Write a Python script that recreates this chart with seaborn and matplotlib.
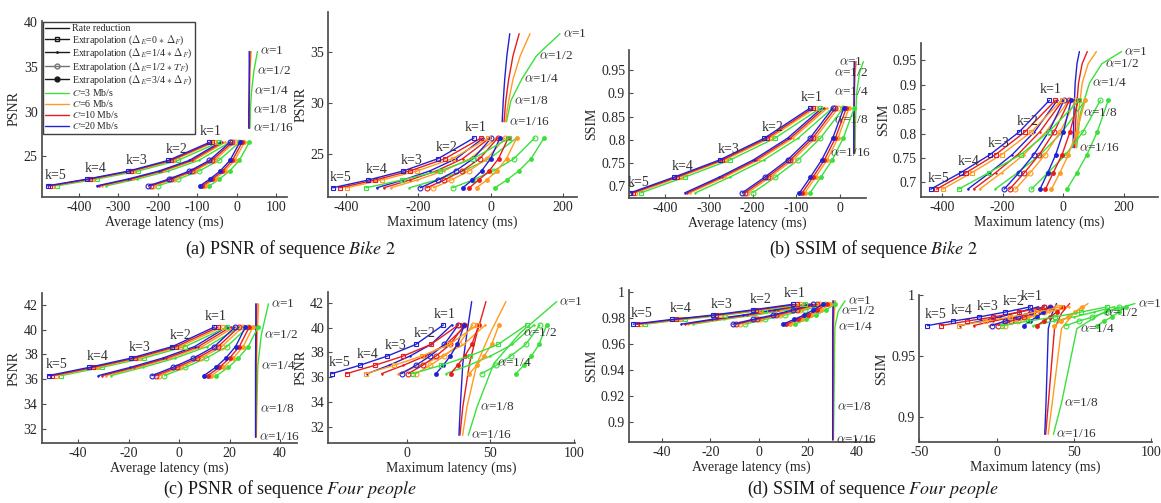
import pandas as pd
import matplotlib
matplotlib.use("Agg")
import matplotlib.pyplot as plt
from matplotlib.lines import Line2D
from matplotlib.ticker import FuncFormatter
import seaborn as sns

# link rates C (Mb/s), drawn in this order so C=20 ends up on top
rates = ["3", "6", "10", "20"]
rate_colors = ["#3be03b", "#ff9b21", "#e81c1c", "#2121d4"]
k_labels = ["k=1", "k=2", "k=3", "k=4", "k=5"]
alpha_labels = [r"$\alpha$=1", r"$\alpha$=1/2", r"$\alpha$=1/4", r"$\alpha$=1/8", r"$\alpha$=1/16"]
legend_labels = ["Rate reduction",
                 r"Extrapolation ($\Delta_E$=0 $*$ $\Delta_F$)",
                 r"Extrapolation ($\Delta_E$=1/4 $*$ $\Delta_F$)",
                 r"Extrapolation ($\Delta_E$=1/2 $*$ $T_F$)",
                 r"Extrapolation ($\Delta_E$=3/4 $*$ $\Delta_F$)",
                 r"$C$=3 Mb/s", r"$C$=6 Mb/s", r"$C$=10 Mb/s", r"$C$=20 Mb/s"]

# quality for k = 1..5 (extrapolation) and alpha = 1 .. 1/16 (rate reduction)
bike_psnr_k = [26.57, 24.55, 23.35, 22.46, 21.70]
bike_psnr_alpha = [36.75, 34.6, 32.3, 30.2, 28.15]
bike_ssim_k = [0.868, 0.8036, 0.757, 0.720, 0.686]
bike_ssim_alpha = [0.968, 0.943, 0.903, 0.842, 0.771]
four_psnr_k = [40.22, 38.64, 37.70, 36.95, 36.28]
four_psnr_alpha = [42.1, 39.6, 37.1, 33.6, 31.3]
four_ssim_k = [0.9903, 0.986, 0.982, 0.9787, 0.975]
four_ssim_alpha = [0.993, 0.985, 0.9725, 0.9115, 0.886]

# latencies (ms), rows = C=3, 6, 10, 20 ; columns = k=1..5 or alpha=1..1/16
bike_avg_d0 = [[-45, -149, -251, -355, -456],
               [-57, -161, -263, -367, -468],
               [-63, -167, -269, -373, -474],
               [-69, -173, -275, -379, -480]]
bike_avg_d14 = [[-18, -96, -174, -252, -331],
                [-30, -108, -186, -264, -343],
                [-36, -114, -192, -270, -349],
                [-42, -120, -198, -276, -355]]
bike_avg_d12 = [[7, -45, -96, -148, -200],
                [-5, -57, -108, -160, -212],
                [-11, -63, -114, -166, -218],
                [-17, -69, -120, -172, -224]]
bike_avg_d34 = [[32, 7, -18, -44, -69],
                [20, -5, -30, -56, -81],
                [14, -11, -36, -62, -87],
                [8, -17, -42, -68, -93]]
bike_avg_rate = [[53, 44, 38, 35, 34],
                 [37, 34, 33, 32, 32],
                 [34, 33, 32, 32, 32],
                 [32, 32, 32, 31, 31]]

bike_max_d0 = [[52, -48, -140, -245, -345],
               [-6, -105, -203, -301, -398],
               [-26, -126, -223, -320, -418],
               [-46, -145, -241, -338, -437]]
bike_max_d14 = [[72, -3, -76, -150, -225],
                [18, -57, -130, -203, -276],
                [-2, -77, -150, -223, -296],
                [-20, -95, -168, -242, -315]]
bike_max_d12 = [[122, 65, 8, -50, -105],
                [40, -10, -60, -109, -158],
                [20, -30, -79, -128, -177],
                [2, -48, -97, -146, -195]]
bike_max_d34 = [[148, 112, 78, 45, 12],
                [72, 44, 17, -11, -39],
                [49, 22, -4, -33, -59],
                [26, 0, -25, -51, -77]]
bike_max_rate = [[192, 127, 86, 56, 44],
                 [109, 82, 62, 50, 41],
                 [79, 62, 50, 42, 37],
                 [53, 45, 39, 35, 32]]

four_avg_d0 = [[19.0, 2.4, -14.0, -30.6, -46.7],
               [17.0, 0.4, -16.0, -32.6, -48.7],
               [15.5, -1.1, -17.5, -34.1, -50.2],
               [14.0, -2.6, -19.0, -35.6, -51.7]]
four_avg_d14 = [[23.9, 11.2, -1.5, -14.3, -27.0],
                [21.9, 9.2, -3.5, -16.3, -29.0],
                [20.4, 7.7, -5.0, -17.8, -30.5],
                [18.9, 6.2, -6.5, -19.3, -32.0]]
four_avg_d12 = [[27.2, 19.0, 10.7, 2.5, -5.8],
                [25.2, 17.0, 8.7, 0.5, -7.8],
                [23.7, 15.5, 7.2, -1.0, -9.3],
                [22.2, 14.0, 5.7, -2.5, -10.8]]
four_avg_d34 = [[31.3, 27.4, 23.5, 19.5, 14.8],
                [29.3, 25.4, 21.5, 17.5, 12.8],
                [27.8, 23.9, 20.0, 16.0, 11.3],
                [26.3, 22.4, 18.5, 14.5, 9.8]]
four_avg_rate = [[35.4, 32.6, 31.2, 30.8, 30.6],
                 [31.5, 31.0, 30.7, 30.5, 30.5],
                 [30.8, 30.6, 30.5, 30.4, 30.4],
                 [30.4, 30.4, 30.3, 30.3, 30.3]]

four_max_d0 = [[71.6, 54.5, 37.5, 20.5, 3.6],
               [42.0, 25.5, 9.0, -7.5, -24.3],
               [31.0, 14.5, -2.0, -19.0, -35.8],
               [21.9, 5.5, -11.5, -28.0, -44.7]]
four_max_d14 = [[76.0, 63.0, 50.0, 37.0, 23.5],
                [47.0, 34.0, 21.0, 8.0, -5.0],
                [36.0, 23.5, 11.0, -2.0, -14.9],
                [27.0, 14.5, 2.0, -10.5, -23.5]]
four_max_d12 = [[79.5, 71.0, 62.0, 53.5, 44.7],
                [39.4, 31.0, 22.5, 14.0, 5.6],
                [34.5, 26.0, 17.5, 9.5, 1.0],
                [30.8, 22.5, 14.0, 5.5, -3.0]]
four_max_d34 = [[83.5, 79.0, 74.4, 69.8, 65.2],
                [55.1, 50.7, 46.2, 41.8, 37.4],
                [43.1, 38.9, 34.6, 30.4, 26.2],
                [34.4, 30.2, 26.0, 21.8, 17.5]]
four_max_rate = [[89.5, 68.0, 52.0, 42.0, 36.8],
                 [59.2, 50.0, 42.0, 36.0, 33.4],
                 [47.3, 42.0, 37.5, 33.5, 31.8],
                 [38.8, 36.0, 33.5, 32.0, 31.2]]

sns.set_theme(style="ticks")
plt.rcParams["font.family"] = ["Liberation Serif", "DejaVu Serif"]
plt.rcParams["mathtext.fontset"] = "cm"
plt.rcParams["axes.edgecolor"] = "0.3"
plt.rcParams["xtick.color"] = "0.3"
plt.rcParams["ytick.color"] = "0.3"
plt.rcParams["xtick.labelcolor"] = "0.15"
plt.rcParams["ytick.labelcolor"] = "0.15"
plt.rcParams["axes.labelcolor"] = "0.15"


def curve_frame(xs, ys):
    rows = []
    for c, xrow in zip(rates, xs):
        for x, y in zip(xrow, ys):
            rows.append({"latency": x, "quality": y, "C": c})
    return pd.DataFrame(rows)


def draw_panel(ax, xset, yk, yalpha, alpha_ha):
    d0, d14, d12, d34, rate = xset
    kw = dict(x="latency", y="quality", hue="C", hue_order=rates, palette=rate_colors,
              sort=False, estimator=None, legend=False, ax=ax, lw=1.0)
    sns.lineplot(data=curve_frame(rate, yalpha), **kw)
    sns.lineplot(data=curve_frame(d14, yk), marker=".", ms=2, mec="auto", **kw)
    sns.lineplot(data=curve_frame(d12, yk), marker="o", ms=3.5, fillstyle="none",
                 mec="auto", mew=0.8, **kw)
    sns.lineplot(data=curve_frame(d34, yk), marker="o", ms=3.5, mew=0, **kw)
    sns.lineplot(data=curve_frame(d0, yk), marker="s", ms=3.5, fillstyle="none",
                 mec="auto", mew=0.8, **kw)
    for i, lab in enumerate(k_labels):
        dx = 1 if i == 0 else 6
        ax.annotate(lab, (d0[3][i], yk[i]), xytext=(dx, 3), textcoords="offset points",
                    ha="center", va="bottom", fontsize=10, color="0.2")
    for i, lab in enumerate(alpha_labels):
        if alpha_ha == "center":
            anchor, off = (rate[3][i], yalpha[i]), (-2, 0)
        else:
            anchor, off = (rate[0][i], yalpha[i]), (2, 0)
        ax.annotate(lab, anchor, xytext=off, textcoords="offset points",
                    ha=alpha_ha, va="center", fontsize=9.5, color="0.2")


W, H = 1161, 503
fig = plt.figure(figsize=(W / 100, H / 100), dpi=100)


def px_axes(x0, y0, x1, y1):
    return fig.add_axes([x0 / W, 1 - y1 / H, (x1 - x0) / W, (y1 - y0) / H])


bike_avg = (bike_avg_d0, bike_avg_d14, bike_avg_d12, bike_avg_d34, bike_avg_rate)
bike_max = (bike_max_d0, bike_max_d14, bike_max_d12, bike_max_d34, bike_max_rate)
four_avg = (four_avg_d0, four_avg_d14, four_avg_d12, four_avg_d34, four_avg_rate)
four_max = (four_max_d0, four_max_d14, four_max_d12, four_max_d34, four_max_rate)

panels = [
    # rect px, x data, y k, y alpha, ylabel, xlabel, xlim, xticks, ylim, yticks, alpha label align
    ((41.7, 20.7, 287, 197), bike_avg, bike_psnr_k, bike_psnr_alpha, "PSNR", "Average latency (ms)",
     (-495, 128), [-400, -300, -200, -100, 0, 100], (20.45, 40.2), [25, 30, 35, 40], "left"),
    ((328.3, 11.7, 577, 197), bike_max, bike_psnr_k, bike_psnr_alpha, "PSNR", "Maximum latency (ms)",
     (-449, 239), [-400, -200, 0, 200], (20.8, 38.9), [25, 30, 35], "left"),
    ((629.3, 50, 866, 198), bike_avg, bike_ssim_k, bike_ssim_alpha, "SSIM", "Average latency (ms)",
     (-482, 59), [-400, -300, -200, -100, 0], (0.675, 0.993), [0.7, 0.75, 0.8, 0.85, 0.9, 0.95], "center"),
    ((920.7, 43, 1158, 197), bike_max, bike_ssim_k, bike_ssim_alpha, "SSIM", "Maximum latency (ms)",
     (-470, 312), [-400, -200, 0, 200], (0.67, 0.9855), [0.7, 0.75, 0.8, 0.85, 0.9, 0.95], "left"),
    ((41.7, 293.3, 296.7, 442.7), four_avg, four_psnr_k, four_psnr_alpha, "PSNR", "Average latency (ms)",
     (-54.4, 46.6), [-40, -20, 0, 20, 40], (30.85, 42.95), [32, 34, 36, 38, 40, 42], "left"),
    ((328.3, 291.7, 575, 442.7), four_max, four_psnr_k, four_psnr_alpha, "PSNR", "Maximum latency (ms)",
     (-46.7, 100.4), [0, 50, 100], (30.7, 42.9), [32, 34, 36, 38, 40, 42], "left"),
    ((629.3, 290, 873.3, 441.7), four_avg, four_ssim_k, four_ssim_alpha, "SSIM", "Average latency (ms)",
     (-53.3, 47), [-40, -20, 0, 20, 40], (0.8846, 1.0013), [0.9, 0.92, 0.94, 0.96, 0.98, 1.0], "left"),
    ((919.3, 295, 1152, 441.7), four_max, four_ssim_k, four_ssim_alpha, "SSIM", "Maximum latency (ms)",
     (-49.8, 100.6), [-50, 0, 50, 100], (0.88, 1.0), [0.9, 0.95, 1.0], "left"),
]

fmt = FuncFormatter(lambda v, p: f"{v:g}")
axes = []
for rect, xset, yk, ya, ylab, xlab, xlim, xt, ylim, yt, aha in panels:
    ax = px_axes(*rect)
    draw_panel(ax, xset, yk, ya, aha)
    ax.set_xlim(*xlim)
    ax.set_ylim(*ylim)
    ax.set_xticks(xt)
    ax.set_yticks(yt)
    ax.xaxis.set_major_formatter(fmt)
    ax.yaxis.set_major_formatter(fmt)
    ax.tick_params(direction="in", length=3, width=0.8, labelsize=10, pad=3)
    ax.set_xlabel(xlab, fontsize=10, labelpad=1)
    ax.set_ylabel(ylab, fontsize=10, labelpad=2)
    sns.despine(ax=ax)
    axes.append(ax)

# legend of the first panel
handles = [Line2D([], [], color="k", lw=1),
           Line2D([], [], color="k", lw=1, marker="s", ms=3.5, fillstyle="none"),
           Line2D([], [], color="k", lw=1, marker=".", ms=2),
           Line2D([], [], color="0.45", lw=1, marker="o", ms=3.5, fillstyle="none"),
           Line2D([], [], color="k", lw=1, marker="o", ms=3.5)]
handles += [Line2D([], [], color=c, lw=1) for c in rate_colors]
axes[0].legend(handles, legend_labels, loc="upper left", fontsize=7.1, frameon=True,
               fancybox=False, edgecolor="0.25", framealpha=1, borderpad=0.25,
               labelspacing=0.0, handlelength=2.4, handletextpad=0.3, borderaxespad=0.1)

caps = [(290, 249, r"(a) PSNR of sequence $\mathit{Bike\ 2}$"),
        (873, 249, r"(b) SSIM of sequence $\mathit{Bike\ 2}$"),
        (290, 489, r"(c) PSNR of sequence $\mathit{Four\ people}$"),
        (873, 489, r"(d) SSIM of sequence $\mathit{Four\ people}$")]
for cx, cy, txt in caps:
    fig.text(cx / W, 1 - cy / H, txt, ha="center", va="center", fontsize=13,
             math_fontfamily="stix", color="0.1")

fig.savefig("out.png", dpi=100)
